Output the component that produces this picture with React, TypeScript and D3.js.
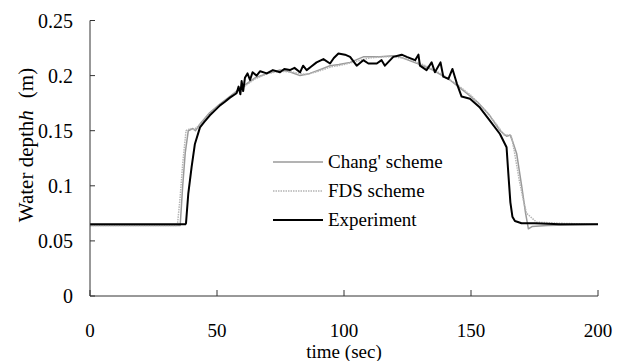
import React from "react";
import * as d3 from "d3";

const W = 624;
const H = 361;

const xTicks = [0, 50, 100, 150, 200];
const xTickLabels = ["0", "50", "100", "150", "200"];
const yTicks = [0, 0.05, 0.1, 0.15, 0.2, 0.25];
const yTickLabels = ["0", "0.05", "0.1", "0.15", "0.2", "0.25"];

const seriesNames = ["Chang' scheme", "FDS scheme", "Experiment"];

// Experiment
const expT = [0, 10, 20, 30, 37.5, 37.8, 38.7, 40, 41.3, 43.3, 45, 47.2, 49, 51.2, 53, 55.1, 57.7, 58.5, 59.2, 59.7, 60.3, 61, 62, 63, 64, 65.6, 67, 69.6, 72, 74.8, 76.5, 78.7, 80.5, 82.7, 83.9, 85.3, 87, 89.2, 91.9, 94.5, 96, 97.8, 100.4, 102.4, 105, 107.6, 109.6, 112.9, 114.8, 116.1, 119.4, 122.7, 124.7, 128, 129.3, 129.9, 132.5, 134.5, 135.8, 138, 139.1, 141.1, 142.7, 144.4, 146.3, 149.6, 153.5, 157.5, 161.4, 164, 164.7, 165.5, 166.3, 167.3, 169.9, 175, 185, 200];
const expV = [0.065, 0.065, 0.065, 0.065, 0.065, 0.066, 0.093, 0.117, 0.138, 0.153, 0.158, 0.164, 0.168, 0.173, 0.176, 0.180, 0.184, 0.190, 0.183, 0.195, 0.186, 0.198, 0.202, 0.196, 0.203, 0.200, 0.204, 0.202, 0.205, 0.203, 0.206, 0.205, 0.207, 0.203, 0.209, 0.205, 0.208, 0.212, 0.215, 0.211, 0.216, 0.220, 0.219, 0.217, 0.209, 0.214, 0.211, 0.211, 0.214, 0.209, 0.217, 0.219, 0.217, 0.214, 0.219, 0.209, 0.205, 0.212, 0.203, 0.212, 0.199, 0.197, 0.206, 0.193, 0.181, 0.179, 0.171, 0.159, 0.147, 0.135, 0.111, 0.085, 0.072, 0.068, 0.066, 0.066, 0.065, 0.065];

// Chang' scheme
const changT = [0, 20, 35.5, 36.5, 37.5, 38.7, 40.5, 41.5, 43.3, 47, 51, 55, 60, 65, 70, 74.8, 78, 82.7, 86.6, 90, 94.5, 98, 102.4, 107.6, 114.2, 119.4, 122, 125.3, 130, 135, 141.7, 145, 148.3, 153, 157, 161.4, 164, 165.4, 166.3, 168, 170, 171.5, 172.6, 174, 180, 200];
const changV = [0.064, 0.064, 0.064, 0.100, 0.130, 0.150, 0.152, 0.150, 0.156, 0.166, 0.174, 0.181, 0.190, 0.198, 0.202, 0.205, 0.204, 0.200, 0.202, 0.205, 0.209, 0.210, 0.212, 0.217, 0.217, 0.218, 0.217, 0.214, 0.210, 0.205, 0.196, 0.190, 0.184, 0.175, 0.165, 0.150, 0.145, 0.146, 0.141, 0.129, 0.099, 0.075, 0.061, 0.063, 0.064, 0.065];

// FDS scheme
const fdsT = [0, 20, 34.4, 35.5, 36.5, 37.8, 39.5, 41, 43, 47, 51, 55, 60, 65, 70, 75, 80, 85, 90, 95, 100, 105, 110, 115, 120, 125, 130, 135, 140, 145, 150, 155, 160, 163, 165.8, 167, 169, 170.6, 171.9, 175.8, 185, 200];
const fdsV = [0.064, 0.064, 0.064, 0.090, 0.120, 0.150, 0.152, 0.151, 0.155, 0.165, 0.173, 0.180, 0.189, 0.197, 0.202, 0.204, 0.203, 0.201, 0.204, 0.208, 0.210, 0.213, 0.216, 0.217, 0.217, 0.215, 0.211, 0.206, 0.199, 0.191, 0.182, 0.170, 0.156, 0.146, 0.146, 0.132, 0.105, 0.087, 0.075, 0.067, 0.066, 0.065];

const x = d3.scaleLinear().domain([0, 200]).range([90, 598]);
const y = d3.scaleLinear().domain([0, 0.25]).range([296, 20.5]);

const line = d3
  .line<[number, number]>()
  .x((d) => x(d[0]))
  .y((d) => y(d[1]));

const zip = (t: number[], v: number[]) => t.map((tt, i) => [tt, v[i]] as [number, number]);

const styles = [
  { stroke: "#9a9a9a", width: 1.5, dash: "none" },
  { stroke: "#b4b4b4", width: 1.5, dash: "1.5,1" },
  { stroke: "#000000", width: 2, dash: "none" },
];

export default function App() {
  const font = "'Liberation Serif', 'Times New Roman', serif";
  const data = [zip(changT, changV), zip(fdsT, fdsV), zip(expT, expV)];
  const axisColor = "#333";
  return (
    <svg
      width={W}
      height={H}
      style={{ position: "absolute", left: 0, top: 0, background: "#fff" }}
      fontFamily={font}
    >
      <rect x={0} y={0} width={W} height={H} fill="#fff" />
      {/* series */}
      {data.map((d, i) => (
        <path
          key={i}
          d={line(d) || ""}
          fill="none"
          stroke={styles[i].stroke}
          strokeWidth={styles[i].width}
          strokeDasharray={styles[i].dash}
          strokeLinejoin="round"
        />
      ))}
      {/* axes */}
      <line x1={x(0)} x2={x(0)} y1={y(0)} y2={y(0.25)} stroke={axisColor} strokeWidth={1} />
      <line x1={x(0)} x2={x(200)} y1={y(0)} y2={y(0)} stroke={axisColor} strokeWidth={1} />
      {yTicks.map((t, i) => (
        <g key={"y" + i}>
          <line x1={x(0)} x2={x(0) + 5} y1={y(t)} y2={y(t)} stroke={axisColor} />
          <text x={73} y={y(t)} dy="0.35em" textAnchor="end" fontSize={20} fill="#000">
            {yTickLabels[i]}
          </text>
        </g>
      ))}
      {xTicks.map((t, i) => (
        <g key={"x" + i}>
          <line x1={x(t)} x2={x(t)} y1={y(0)} y2={y(0) - 6} stroke={axisColor} />
          <text x={x(t)} y={330} dy="0.35em" textAnchor="middle" fontSize={19} fill="#000">
            {xTickLabels[i]}
          </text>
        </g>
      ))}
      {/* axis titles */}
      <text x={344} y={358} textAnchor="middle" fontSize={19} fill="#000">
        time (sec)
      </text>
      <text
        transform="translate(33,145) rotate(-90)"
        textAnchor="middle"
        fontSize={21}
        fill="#000"
      >
        <tspan>Water depth</tspan>
        <tspan fontStyle="italic">h</tspan>
        <tspan dx={12}>(m)</tspan>
      </text>
      {/* legend */}
      {seriesNames.map((name, i) => {
        const ly = 162 + i * 29;
        return (
          <g key={"l" + i}>
            <line
              x1={273}
              x2={323}
              y1={ly}
              y2={ly}
              stroke={styles[i].stroke}
              strokeWidth={styles[i].width}
              strokeDasharray={styles[i].dash}
            />
            <text x={328} y={ly} dy="0.3em" fontSize={19} fill="#000">
              {name}
            </text>
          </g>
        );
      })}
    </svg>
  );
}
